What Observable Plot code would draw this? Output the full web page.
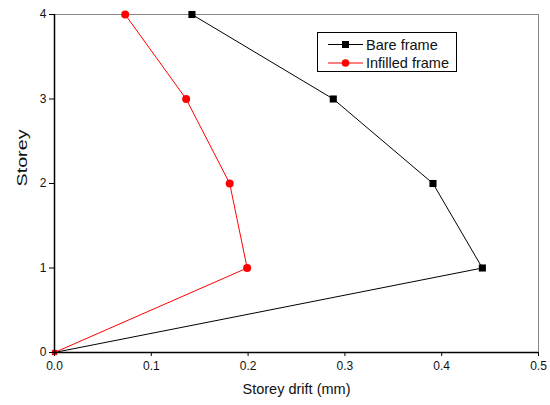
<!DOCTYPE html>
<html><head><meta charset="utf-8">
<script src="https://cdn.jsdelivr.net/npm/d3@7"></script>
<script src="https://cdn.jsdelivr.net/npm/@observablehq/plot@0.6"></script>
<style>
body{margin:0;background:#fff;font-family:"Liberation Sans",Arial,sans-serif;}
#wrap{position:relative;width:550px;height:405px;}
#legend{position:absolute;left:317px;top:32px;width:140px;height:40px;border:1px solid #000;background:#fff;box-sizing:border-box;}
</style></head>
<body><div id="wrap"><div id="legend"></div></div>
<script>
const storeys = [0, 1, 2, 3, 4];
const bareDrift = [0, 0.442, 0.391, 0.288, 0.142];
const infilledDrift = [0, 0.199, 0.181, 0.136, 0.073];
const seriesNames = ["Bare frame", "Infilled frame"];
const xTicks = [0, 0.1, 0.2, 0.3, 0.4, 0.5];
const yTicks = [0, 1, 2, 3, 4];

const bare = storeys.map((s, i) => ({storey: s, drift: bareDrift[i]}));
const infilled = storeys.map((s, i) => ({storey: s, drift: infilledDrift[i]}));

const chart = Plot.plot({
  width: 550, height: 405,
  marginLeft: 54, marginRight: 12, marginTop: 14, marginBottom: 53,
  style: {fontFamily: '"Liberation Sans", Arial, sans-serif', fontSize: "12px", background: "#fff", overflow: "visible"},
  x: {domain: [0, 0.5]},
  y: {domain: [0, 4]},
  marks: [
    Plot.ruleY([4], {stroke: "#888", strokeWidth: 1}),
    Plot.ruleX([0.5], {stroke: "#888", strokeWidth: 1}),
    Plot.line(bare, {x: "drift", y: "storey", stroke: "#000", strokeWidth: 1}),
    Plot.dot(bare.slice(1), {x: "drift", y: "storey", symbol: "square", r: 4, fill: "#000", stroke: "none"}),
    Plot.line(infilled, {x: "drift", y: "storey", stroke: "#ff0000", strokeWidth: 1}),
    Plot.dot(infilled.slice(1), {x: "drift", y: "storey", r: 4, fill: "#ff0000", stroke: "none"}),
    Plot.dot(infilled.slice(0, 1), {x: "drift", y: "storey", symbol: "square", r: 3, fill: "#ff0000", stroke: "none"}),
    Plot.ruleY([0], {stroke: "#000", strokeWidth: 1.5}),
    Plot.ruleX([0], {stroke: "#000", strokeWidth: 1.5}),
    Plot.axisX({ticks: xTicks, tickFormat: d3.format(".1f"), tickSize: 4, tickPadding: 5, label: null, fontSize: 12, fill: "#111"}),
    Plot.axisY({ticks: yTicks, tickFormat: d3.format("d"), tickSize: 5, tickPadding: 3, label: null, fontSize: 12, fill: "#111"}),
    Plot.text(["Storey drift (mm)"], {frameAnchor: "bottom", dy: 41, fontSize: 14.5, fill: "#111"}),
    Plot.text(["Storey"], {frameAnchor: "left", dx: -32, dy: 3, rotate: -90, fontSize: 14, fill: "#111", className: "ytitle"})
  ]
});
document.getElementById("wrap").prepend(chart);
d3.select(chart).selectAll(".ytitle text").attr("textLength", 57).attr("lengthAdjust", "spacingAndGlyphs");

const lg = d3.select("#legend").append("svg").attr("width", 138).attr("height", 38);
const colors = ["#000", "#ff0000"];
seriesNames.forEach((name, i) => {
  const y = 11.5 + i * 18.5;
  lg.append("line").attr("x1", 10).attr("x2", 45).attr("y1", y).attr("y2", y).attr("stroke", colors[i]).attr("stroke-width", 1);
  if (i === 0) lg.append("rect").attr("x", 24).attr("y", y - 3.5).attr("width", 7).attr("height", 7).attr("fill", "#000");
  else lg.append("circle").attr("cx", 27.5).attr("cy", y).attr("r", 3.8).attr("fill", "#ff0000");
  lg.append("text").attr("x", 48).attr("y", y + 5).attr("font-size", 14.5).attr("fill", "#111")
    .attr("font-family", '"Liberation Sans", Arial, sans-serif').text(name);
});
</script></body></html>
